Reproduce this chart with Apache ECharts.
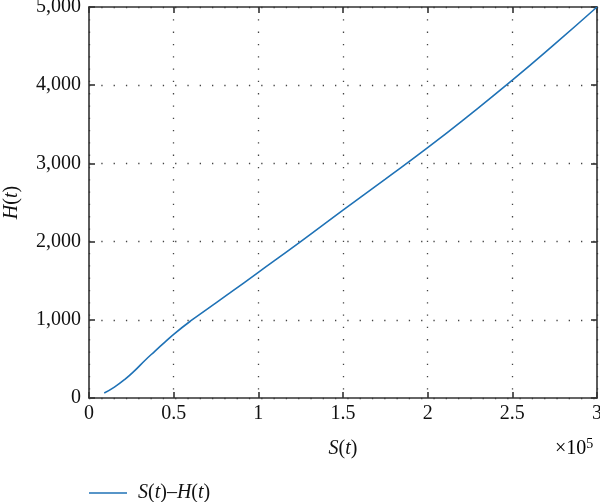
<!DOCTYPE html>
<html>
<head>
<meta charset="utf-8">
<script src="https://cdn.jsdelivr.net/npm/echarts@6/dist/echarts.min.js"></script>
<style>html,body{margin:0;padding:0;background:#fff;}#c{width:600px;height:502px;}</style>
</head>
<body>
<div id="c"></div>
<script>
// S(t) in units of 1e5
const sValues = [0.09, 0.15, 0.21, 0.27, 0.33, 0.39, 0.45, 0.50, 0.60, 0.70, 0.83, 1.00, 1.25, 1.50, 1.75, 2.00, 2.25, 2.50, 2.75, 3.00];
const hValues = [64, 140, 235, 350, 480, 600, 718, 815, 985, 1140, 1340, 1607, 2000, 2403, 2800, 3202, 3625, 4064, 4525, 5000];
const seriesName = 'S(t)–H(t)';

const FONT = '"Liberation Serif", serif';
const AX = '#333';
const data = sValues.map((s, i) => [s, hValues[i]]);

const chart = echarts.init(document.getElementById('c'), null, {renderer: 'canvas'});
const italic = {fontFamily: FONT, fontStyle: 'italic', fontSize: 20, color: '#111'};
const upright = {fontFamily: FONT, fontSize: 20, color: '#111'};
const richNames = {i: italic, u: upright};
const gridLine = {show: true, lineStyle: {color: '#444', width: 1.3, type: [1.3, 11]}};
const boxLine = {show: true, onZero: false, lineStyle: {color: AX, width: 1.6}};
const tick = {show: true, inside: true, length: 6, lineStyle: {color: AX, width: 1.6}};

chart.setOption({
  animation: false,
  backgroundColor: '#fff',
  grid: {left: 89, right: 3, top: 7, bottom: 104, containLabel: false, outerBoundsMode: 'none'},
  xAxis: [{
    type: 'value', min: 0, max: 3, interval: 0.5,
    axisLine: boxLine, axisTick: tick,
    axisLabel: {fontFamily: FONT, fontSize: 20, color: '#111', margin: 6},
    splitLine: gridLine,
    name: '{i|S}{u|(}{i|t}{u|)}', nameLocation: 'middle', nameGap: 41,
    nameTextStyle: {rich: richNames}
  }, {
    type: 'value', min: 0, max: 3, interval: 0.5, position: 'top',
    axisLine: boxLine, axisTick: tick,
    axisLabel: {show: false}, splitLine: {show: false}
  }],
  yAxis: [{
    type: 'value', min: 0, max: 5000, interval: 1000,
    axisLine: boxLine, axisTick: tick,
    axisLabel: {fontFamily: FONT, fontSize: 20, color: '#111', margin: 8,
      formatter: v => v.toLocaleString('en-US')},
    splitLine: gridLine,
    name: '{i|H}{u|(}{i|t}{u|)}', nameLocation: 'middle', nameGap: 67, nameRotate: 90,
    nameTextStyle: {rich: richNames}
  }, {
    type: 'value', min: 0, max: 5000, interval: 1000, position: 'right',
    axisLine: boxLine, axisTick: tick,
    axisLabel: {show: false}, splitLine: {show: false}
  }],
  legend: {
    left: 84, top: 478, icon: 'rect', itemWidth: 38, itemHeight: 1.5, itemGap: 10,
    data: [seriesName],
    formatter: () => '{i|S}{u|(}{i|t}{u|)–}{i|H}{u|(}{i|t}{u|)}',
    textStyle: {rich: richNames, padding: [0, 0, 0, 6]}
  },
  graphic: [{
    type: 'text', left: 555, top: 437,
    style: {
      text: '{u|×10}{s|5}',
      rich: {u: upright, s: {fontFamily: FONT, fontSize: 14, color: '#111', verticalAlign: 'top', padding: [0, 0, 10, 0]}}
    }
  }],
  series: [{
    name: seriesName, type: 'line', data: data, smooth: 0.5,
    showSymbol: false, symbol: 'none',
    lineStyle: {color: '#1f72b6', width: 1.6},
    itemStyle: {color: '#1f72b6'}
  }]
});
</script>
</body>
</html>
